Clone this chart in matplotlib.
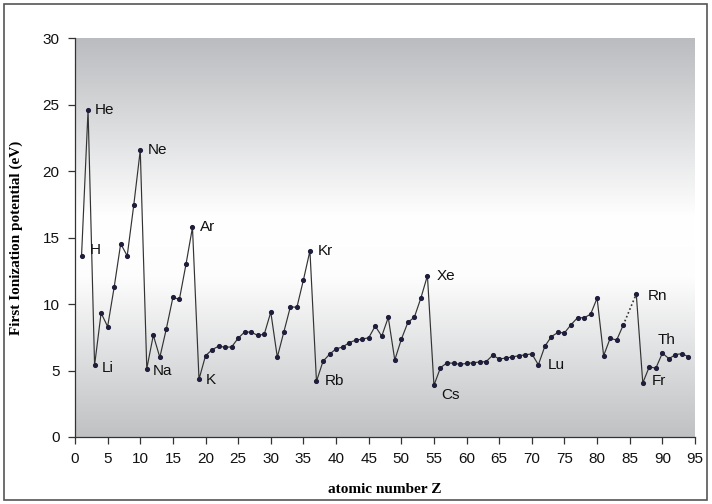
import numpy as np
import matplotlib
matplotlib.use("Agg")
import matplotlib.pyplot as plt
from matplotlib.colors import LinearSegmentedColormap
from matplotlib.patches import Rectangle

Z = list(range(1, 95))
IE = [13.60, 24.59, 5.39, 9.32, 8.30, 11.26, 14.53, 13.62, 17.42, 21.56,
      5.14, 7.65, 5.99, 8.15, 10.49, 10.36, 12.97, 15.76, 4.34, 6.11,
      6.56, 6.83, 6.75, 6.77, 7.43, 7.90, 7.88, 7.64, 7.73, 9.39,
      6.00, 7.90, 9.79, 9.75, 11.81, 14.00, 4.18, 5.69, 6.22, 6.63,
      6.76, 7.09, 7.28, 7.36, 7.46, 8.34, 7.58, 8.99, 5.79, 7.34,
      8.61, 9.01, 10.45, 12.13, 3.89, 5.21, 5.58, 5.54, 5.47, 5.53,
      5.58, 5.64, 5.67, 6.15, 5.86, 5.94, 6.02, 6.11, 6.18, 6.25,
      5.43, 6.83, 7.55, 7.86, 7.83, 8.44, 8.97, 8.96, 9.23, 10.44,
      6.11, 7.42, 7.29, 8.41, np.nan, 10.75, 4.07, 5.28, 5.17, 6.31,
      5.89, 6.19, 6.27, 6.03]
labels = ["H", "He", "Li", "Ne", "Na", "Ar", "K", "Kr", "Rb", "Xe", "Cs", "Lu", "Rn", "Fr", "Th"]
label_Z = [1, 2, 3, 10, 11, 18, 19, 36, 37, 54, 55, 71, 86, 87, 90]
xticks = list(range(0, 100, 5))
yticks = list(range(0, 35, 5))

fig = plt.figure(figsize=(7.12, 5.04), dpi=100)
fig.patch.set_facecolor("white")
fig.patches.append(Rectangle((4/712, 4/504), 703/712, 496/504, transform=fig.transFigure,
                             fill=False, edgecolor="#555555", linewidth=1.2))
ax = fig.add_axes([75/712, (504-437)/504, 620/712, 399/504])

cmap = LinearSegmentedColormap.from_list("bg", [(0.0, "#bfc1c3"), (0.40, "#fdfdfd"),
                                               (0.55, "#ffffff"), (1.0, "#babcbf")])
grad = np.linspace(0, 1, 256).reshape(-1, 1)
ax.imshow(grad, aspect="auto", cmap=cmap, extent=[0, 1, 0, 1], transform=ax.transAxes,
          origin="lower", zorder=0)

zs = np.array(Z)
vals = np.array(IE)
ax.plot(zs, vals, color="#333333", linewidth=0.85, marker="o", markersize=2.7,
        markerfacecolor="#1e1e3c", markeredgecolor="#1e1e3c", zorder=3)
# dotted bridge over the missing value (At)
i0, i1 = Z.index(84), Z.index(86)
ax.plot([Z[i0], Z[i1]], [IE[i0], IE[i1]], color="#333333", linewidth=1.2,
        linestyle=(0, (1, 1.5)), zorder=2)

offsets = {"H": (8, 6), "He": (7, 0), "Li": (7, -3), "Ne": (7, 0), "Na": (6, -2),
           "Ar": (7, 0), "K": (7, -1), "Kr": (8, 0), "Rb": (8, 0), "Xe": (9, 0),
           "Cs": (7, -10), "Lu": (9, 0), "Rn": (11, -2), "Fr": (9, 2), "Th": (-5, 13)}
for lab, z in zip(labels, label_Z):
    v = IE[Z.index(z)]
    dx, dy = offsets[lab]
    ax.annotate(lab, (z, v), xytext=(dx, dy), textcoords="offset pixels",
                ha="left", va="center", fontsize=11, family="Liberation Sans",
                color="#111111", zorder=4)

ax.set_xlim(0, 95)
ax.set_ylim(0, 30)
ax.set_xticks(xticks)
ax.set_yticks(yticks)
for s in ["top", "right"]:
    ax.spines[s].set_visible(False)
for s in ["left", "bottom"]:
    ax.spines[s].set_color("#333333")
    ax.spines[s].set_linewidth(0.9)
ax.tick_params(direction="out", length=5, width=0.9, color="#333333",
               labelsize=11, labelcolor="#111111", pad=6)
for t in ax.get_xticklabels() + ax.get_yticklabels():
    t.set_family("Liberation Sans")
ax.set_xlabel("atomic number Z", family="Liberation Serif", fontweight="bold",
              fontsize=11, labelpad=12)
ax.set_ylabel("First Ionization potential (eV)", family="Liberation Serif",
              fontweight="bold", fontsize=11, labelpad=14)

fig.savefig("out.png", dpi=100)
